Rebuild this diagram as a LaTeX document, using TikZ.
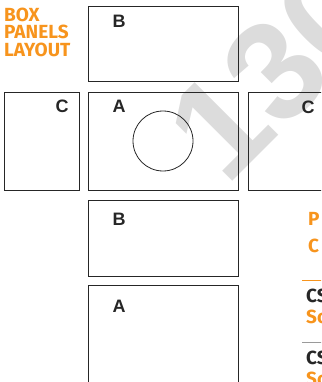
\documentclass[tikz,border=0pt]{standalone}
\usepackage{fontspec}
\setmainfont{Liberation Sans}
\newfontfamily\headfont{Fira Sans}
\usepackage{tikz}
\usetikzlibrary{positioning}
\definecolor{HeadOrange}{HTML}{F7941D}
\definecolor{MarkGrey}{HTML}{DCDCDC}
\definecolor{RuleGrey}{HTML}{9A9A9A}
\definecolor{PanelLine}{HTML}{262626}

\begin{document}
\begin{tikzpicture}[x=1pt, y=1pt,
  every node/.style={inner sep=0pt},
  panel/.style={draw=PanelLine, line width=0.9pt, minimum width=150pt, minimum height=75pt},
  lbl/.style={anchor=base, font=\bfseries\fontsize{18}{18}\selectfont, text=PanelLine},
  head/.style={anchor=base west, font=\headfont\bfseries\fontsize{19}{19}\selectfont, text=HeadOrange}]
  \clip (0,0) rectangle (321,-382);
  % watermark
  \node[rotate=45, anchor=base west, font=\bfseries\fontsize{140}{140}\selectfont, text=MarkGrey]
    (mark) at (226,-188) {130};
  % heading
  \node[head] (hbox)    at (4,-22) {BOX};
  \node[head] (hpanels) at (4,-39) {PANELS};
  \node[head] (hlayout) at (4,-57) {LAYOUT};
  % panels
  \node[panel] (Btop)   at (163,-43.5) {};
  \node[panel, minimum height=98pt] (Amid)   at (163,-141) {};
  \node[panel, minimum width=75pt, minimum height=98pt] (Cleft)  at (41.5,-141) {};
  \node[panel, minimum width=75pt, minimum height=98pt] (Cright) at (285.5,-141) {};
  \node[panel, minimum height=76pt] (Bbot)   at (163,-238) {};
  \node[panel, minimum height=98pt] (Abot)   at (163,-334) {};
  \node[draw=PanelLine, line width=0.8pt, circle, minimum size=60pt] (hole) at (Amid.center) {};
  % panel letters
  \node[lbl] (lBtop)   at (119,-28)  {B};
  \node[lbl] (lAmid)   at (119,-113) {A};
  \node[lbl] (lCleft)  at (62,-113)  {C};
  \node[lbl] (lCright) at (308,-114) {C};
  \node[lbl] (lBbot)   at (119,-225) {B};
  \node[lbl] (lAbot)   at (119,-312) {A};
  % side column
  \node[head] (sP) at (308,-225) {P};
  \node[head] (sC) at (308,-252) {C};
  \coordinate (r1) at (302,-280);
  \coordinate (r1e) at (330,-280);
  \draw[HeadOrange, line width=1pt] (r1) -- (r1e);
  \node[head, text=PanelLine] (cs1) at (306,-302) {CS};
  \node[head] (so1) at (306,-323) {So};
  \coordinate (r2) at (302,-342);
  \coordinate (r2e) at (330,-342);
  \draw[RuleGrey, line width=0.8pt] (r2) -- (r2e);
  \node[head, text=PanelLine] (cs2) at (306,-364) {CS};
  \node[head] (so2) at (306,-385) {So};
\end{tikzpicture}
\end{document}
